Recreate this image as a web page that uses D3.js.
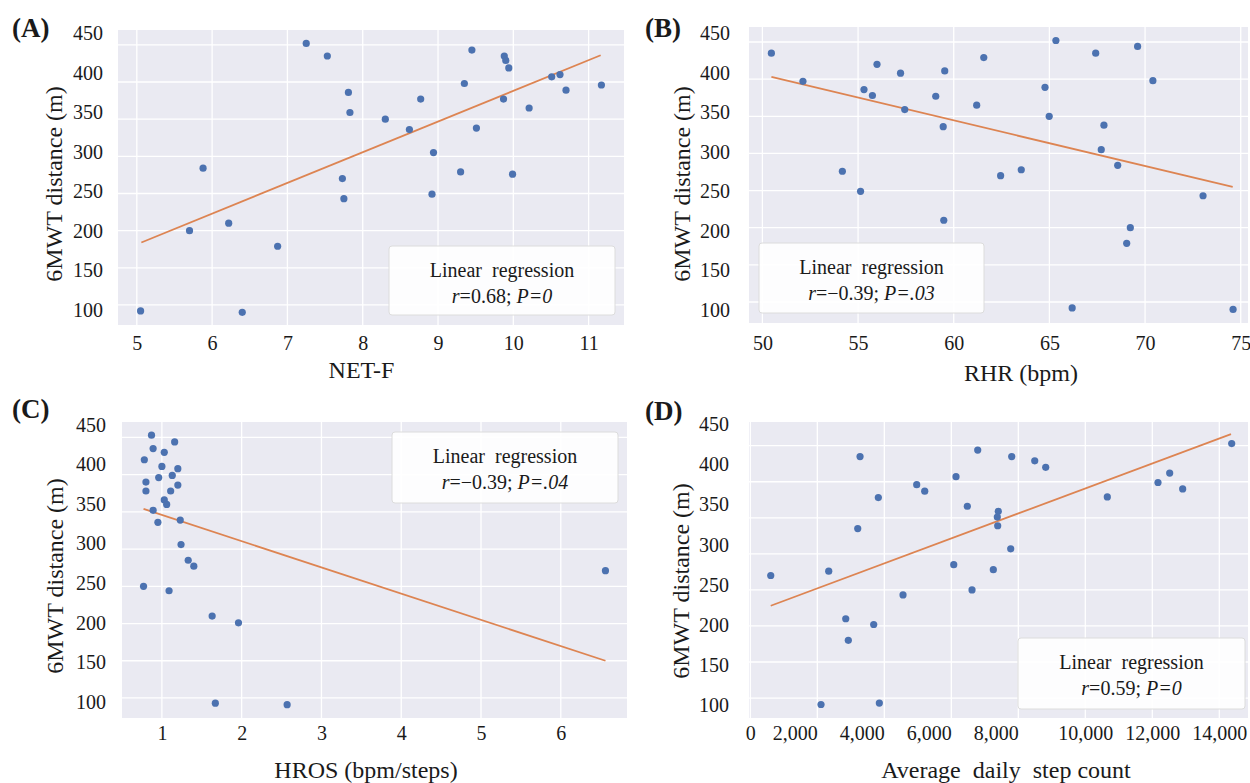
<!DOCTYPE html>
<html>
<head>
<meta charset="utf-8">
<script src="https://cdn.jsdelivr.net/npm/d3@7"></script>
<style>
  body { margin: 0; background: #fff; }
  text { font-family: "Liberation Serif", "Times New Roman", serif; fill: #1a1a1a; }
</style>
</head>
<body>
<svg id="chart" width="1250" height="783"></svg>
<script>
// values
const yTicks = [100, 150, 200, 250, 300, 350, 400, 450]

const netfTicks = [5, 6, 7, 8, 9, 10, 11]
const netfX = [5.05, 5.70, 5.88, 6.22, 6.40, 6.87, 7.25, 7.53, 7.81, 7.83, 7.73, 7.75, 8.30, 8.62, 8.77, 8.94,
  8.92, 9.45, 9.35, 9.30, 9.51, 9.88, 9.90, 9.94, 9.87, 9.99, 10.21, 10.51, 10.62, 10.70, 11.17]
const netfY = [92, 200, 284, 210, 90, 179, 452, 435, 386, 359, 270, 243, 350, 336, 377, 305,
  249, 443, 398, 279, 338, 435, 429, 419, 377, 276, 365, 407, 410, 389, 396]
const netfFit = [[5.06, 184], [11.16, 436]]

const rhrTicks = [50, 55, 60, 65, 70, 75]
const rhrX = [50.47, 52.12, 54.18, 55.13, 55.31, 55.75, 55.99, 57.22, 57.44, 59.06, 59.53, 59.45, 59.48, 61.57,
  61.20, 62.45, 63.53, 64.77, 64.99, 65.34, 66.19, 67.42, 67.85, 67.71, 68.57, 69.23, 69.04, 69.61, 70.41, 73.03, 74.60]
const rhrY = [435, 397, 276, 249, 386, 378, 420, 408, 359, 377, 411, 336, 210, 429,
  365, 270, 278, 389, 350, 452, 92, 435, 338, 305, 284, 200, 179, 444, 398, 243, 90]
const rhrFit = [[50.47, 403], [74.58, 255]]

const hrosTicks = [1, 2, 3, 4, 5, 6]
const hrosX = [0.87, 1.16, 0.89, 1.03, 0.78, 1.00, 1.20, 0.96, 1.13, 0.80, 1.20, 0.80, 1.11, 1.03,
  1.06, 0.89, 0.95, 1.23, 1.24, 1.33, 1.40, 0.77, 1.09, 1.63, 1.96, 1.67, 2.57, 6.56]
const hrosY = [453, 444, 435, 430, 420, 411, 408, 396, 399, 390, 386, 378, 378, 366,
  360, 352, 336, 339, 306, 285, 277, 250, 244, 210, 201, 93, 91, 271]
const hrosFit = [[0.77, 354], [6.56, 150]]

const stepTicks = [0, 2000, 4000, 6000, 8000, 10000, 12000, 14000]
const stepX = [609, 2110, 2340, 2848, 2925, 3206, 3275, 3683, 3821, 3851, 4558, 4967, 5206, 6072, 6140, 6788,
  6478, 7254, 7403, 7373, 7385, 6618, 7773, 7803, 8490, 8818, 10657, 12170, 12519, 12907, 14370]
const stepY = [270, 91, 276, 210, 180, 335, 435, 202, 378, 93, 243, 396, 387, 285, 407, 444,
  366, 278, 359, 351, 339, 250, 307, 435, 429, 420, 379, 399, 412, 390, 453]
const stepFit = [[609, 228], [14349, 466]]

const panelLetters = ["(A)", "(B)", "(C)", "(D)"]
const xTitles = ["NET-F", "RHR (bpm)", "HROS (bpm/steps)", "Average  daily  step count"]
const rValues = ["0.68", "\u22120.39", "\u22120.39", "0.59"]
const pValues = ["0", ".03", ".04", "0"]

// layout of the four panels
const panels = [
  { xs: netfX, ys: netfY, fit: netfFit, ticks: netfTicks,
    box: [118, 30, 624, 325], xDom: [4.75, 11.47], yDom: [73, 470], labY: [310, 33.3], labRight: 103, xLabY: 343,
    letter: [12, 37], yTitle: [61.5, 184], xTitle: [361.5, 378], legend: [389, 246, 615, 315] },
  { xs: rhrX, ys: rhrY, fit: rhrFit, ticks: rhrTicks,
    box: [749, 27, 1248, 323], xDom: [49.3, 75.38], yDom: [71.7, 470.2], labY: [310, 33.3], labRight: 730, xLabY: 343,
    letter: [645, 37], yTitle: [690, 184], xTitle: [1021, 381], legend: [759, 243, 984, 313] },
  { xs: hrosX, ys: hrosY, fit: hrosFit, ticks: hrosTicks,
    box: [122, 422, 627, 718], xDom: [0.5, 6.83], yDom: [73.1, 470.7], labY: [701.7, 425], labRight: 106, xLabY: 733,
    letter: [12, 418], yTitle: [63, 576], xTitle: [366, 778], legend: [392, 432, 618, 503] },
  { xs: stepX, ys: stepY, fit: stepFit, ticks: stepTicks,
    box: [749, 422, 1248, 718], xDom: [-40, 14857], yDom: [72.3, 482.9], labY: [705, 424.3], labRight: 729, xLabY: 733,
    letter: [645, 420], yTitle: [689, 581], xTitle: [1006, 778], legend: [1018, 638, 1245, 709], commas: true }
]

const svg = d3.select("#chart")

function drawPanel(p, i) {
  let [x0, y0, x1, y1] = p.box
  let g = svg.append("g")

  let x = d3.scaleLinear().domain(p.xDom).range([x0, x1])
  let y = d3.scaleLinear().domain(p.yDom).range([y1, y0])
  let yLab = d3.scaleLinear().domain([100, 450]).range(p.labY)

  g.append("rect")
    .attr("x", x0).attr("y", y0)
    .attr("width", x1 - x0).attr("height", y1 - y0)
    .attr("fill", "#eaeaf2")

  g.selectAll(".vgrid").data(p.ticks).enter().append("line")
    .attr("x1", (d) => x(d)).attr("x2", (d) => x(d))
    .attr("y1", y0).attr("y2", y1)
    .attr("stroke", "#fff").attr("stroke-width", 1.3)

  g.selectAll(".hgrid").data(yTicks).enter().append("line")
    .attr("x1", x0).attr("x2", x1)
    .attr("y1", (d) => y(d)).attr("y2", (d) => y(d))
    .attr("stroke", "#fff").attr("stroke-width", 1.3)

  g.append("path")
    .datum(p.fit)
    .attr("d", d3.line().x((d) => x(d[0])).y((d) => y(d[1])))
    .attr("stroke", "#dd8452").attr("stroke-width", 1.8).attr("fill", "none")

  g.selectAll("circle").data(p.xs).enter().append("circle")
    .attr("cx", (d) => x(d))
    .attr("cy", (d, k) => y(p.ys[k]))
    .attr("r", 3.6)
    .attr("fill", "#4c72b0")

  // y tick labels sit on their own spacing in the figure
  let yAxis = g.append("g")
    .attr("transform", `translate(${p.labRight},0)`)
    .call(d3.axisLeft(yLab).tickValues(yTicks).tickSize(0).tickPadding(0))
  yAxis.select(".domain").remove()
  yAxis.selectAll("text").style("font-size", "20px").attr("fill", "#1a1a1a")

  let fmt = p.commas ? d3.format(",") : d3.format("d")
  let xAxis = g.append("g")
    .attr("transform", `translate(0,${p.xLabY - 7.6})`)
    .call(d3.axisBottom(x).tickValues(p.ticks).tickFormat(fmt).tickSize(0).tickPadding(0))
  xAxis.select(".domain").remove()
  xAxis.selectAll("text").style("font-size", "20px").attr("fill", "#1a1a1a")
  if (p.commas) {
    xAxis.selectAll("text")
      .attr("text-anchor", (d) => (d > 0 && d < 10000 ? "end" : "middle"))
  }

  svg.append("text")
    .attr("x", p.letter[0]).attr("y", p.letter[1])
    .style("font-size", "27px").style("font-weight", "bold")
    .text(panelLetters[i])

  svg.append("text")
    .attr("transform", `translate(${p.yTitle[0]},${p.yTitle[1]}) rotate(-90)`)
    .attr("text-anchor", "middle")
    .style("font-size", "24px")
    .text("6MWT distance (m)")

  svg.append("text")
    .attr("x", p.xTitle[0]).attr("y", p.xTitle[1])
    .attr("text-anchor", "middle")
    .style("font-size", "24px")
    .style("white-space", "pre")
    .text(xTitles[i])

  let [lx0, ly0, lx1, ly1] = p.legend
  let cx = (lx0 + lx1) / 2
  g.append("rect")
    .attr("x", lx0).attr("y", ly0)
    .attr("width", lx1 - lx0).attr("height", ly1 - ly0)
    .attr("rx", 3)
    .attr("fill", "#fff").attr("fill-opacity", 0.9)
    .attr("stroke", "#dcdcdc").attr("stroke-width", 1)

  g.append("text")
    .attr("x", cx).attr("y", ly0 + 31)
    .attr("text-anchor", "middle")
    .style("font-size", "20px")
    .style("white-space", "pre")
    .text("Linear  regression")

  let t2 = g.append("text")
    .attr("x", cx).attr("y", ly0 + 56.5)
    .attr("text-anchor", "middle")
    .style("font-size", "20px")
  t2.append("tspan").style("font-style", "italic").text("r")
  t2.append("tspan").text(`=${rValues[i]}; `)
  t2.append("tspan").style("font-style", "italic").text(`P=${pValues[i]}`)
}

panels.forEach(drawPanel)
</script>
</body>
</html>
